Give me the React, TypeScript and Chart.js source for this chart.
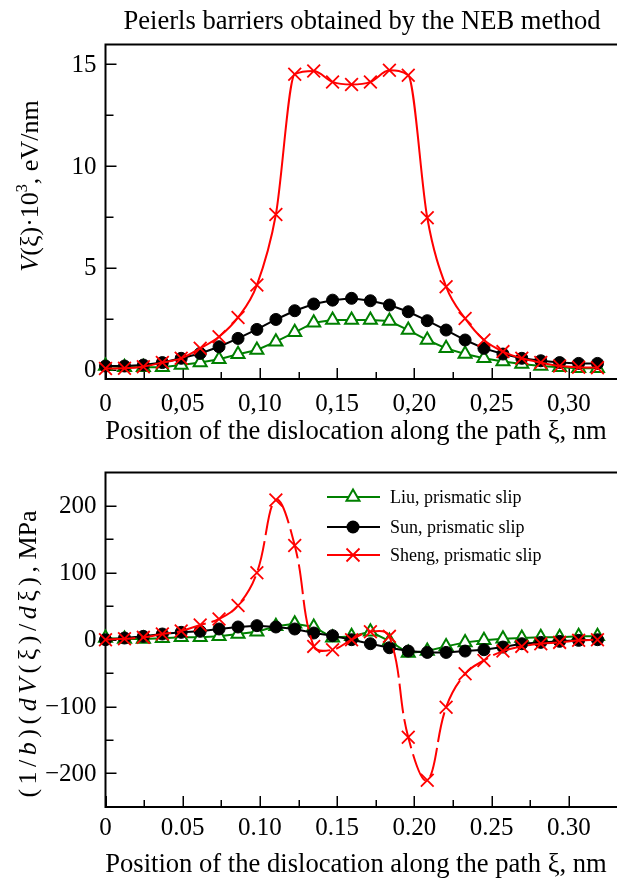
import React, { useEffect, useRef } from 'react';
import { Chart, registerables } from 'chart.js';

Chart.register(...registerables);

// ---------- data ----------
const X_NM = [0, 0.0123, 0.0245, 0.0368, 0.049, 0.0613, 0.0735, 0.0858, 0.098, 0.1103, 0.1225, 0.1348, 0.147, 0.1593, 0.1715, 0.1838, 0.196, 0.2083, 0.2205, 0.2328, 0.245, 0.2573, 0.2695, 0.2818, 0.294, 0.3063, 0.3185];

// Peierls barrier V(xi)*10^3, eV/nm
const LIU_BARRIER = [0.17, 0.11, 0.11, 0.11, 0.22, 0.34, 0.5, 0.75, 0.96, 1.37, 1.83, 2.3, 2.43, 2.43, 2.43, 2.38, 1.94, 1.45, 1.04, 0.76, 0.55, 0.39, 0.27, 0.17, 0.11, 0.06, 0.06];
const SUN_BARRIER = [0.17, 0.17, 0.22, 0.34, 0.55, 0.79, 1.12, 1.53, 1.97, 2.46, 2.89, 3.22, 3.41, 3.5, 3.38, 3.17, 2.84, 2.4, 1.94, 1.45, 1.04, 0.76, 0.55, 0.43, 0.34, 0.3, 0.3];
const SHENG_BARRIER = [0.05, 0.06, 0.14, 0.34, 0.55, 1.04, 1.61, 2.56, 4.15, 7.62, 14.52, 14.68, 14.14, 14.01, 14.14, 14.71, 14.47, 7.46, 4.07, 2.51, 1.45, 0.88, 0.55, 0.34, 0.17, 0.11, 0.09];

// Peierls stress (1/b)(dV/dxi), MPa
const LIU_STRESS = [2.5, 1, 1, 2, 3.5, 3.5, 5, 8.5, 12, 20, 24, 19, 3, 5, 12, -2, -20, -17, -10, -4, -1, 1.5, 2.5, 3.5, 3.5, 5, 5];
const SUN_STRESS = [0, 2.5, 5, 8.5, 11, 12.5, 16, 19, 21, 19, 16, 10, 6, 0, -6, -12, -17, -19, -19, -17, -15, -11, -6, -4, -2.5, -1, 0];
const SHENG_STRESS = [0, 1.5, 3.5, 8.5, 13, 22, 31, 51, 100, 209, 141, -10, -15, 0, 12, 5, -146, -210, -101, -51, -31, -17, -10, -6, -4, -1, 0];

const SERIES_NAMES = ['Liu, prismatic slip', 'Sun, prismatic slip', 'Sheng, prismatic slip'];

const X_MAJOR = [0, 0.05, 0.1, 0.15, 0.2, 0.25, 0.3];
const X_MINOR = [0.025, 0.075, 0.125, 0.175, 0.225, 0.275];
const TOP_X_LABELS = ['0', '0,05', '0,10', '0,15', '0,20', '0,25', '0,30'];
const BOTTOM_X_LABELS = ['0', '0.05', '0.10', '0.15', '0.20', '0.25', '0.30'];

const TOP_Y_MAJOR = [0, 5, 10, 15];
const TOP_Y_MINOR = [2.5, 7.5, 12.5];
const TOP_Y_LABELS = ['0', '5', '10', '15'];
const BOTTOM_Y_MAJOR = [-200, -100, 0, 100, 200];
const BOTTOM_Y_MINOR = [-150, -50, 50, 150];
const BOTTOM_Y_LABELS = ['\u2212200', '\u2212100', '0', '100', '200'];

// ---------- styling ----------
const FONT = '"Liberation Serif", "Times New Roman", serif';
const RED = '#ff0000';
const GREEN = '#008000';
const BLACK = '#000000';
const CANVAS_W = 617;

function font(size: number, italic = false) {
  return `${italic ? 'italic ' : ''}${size}px ${FONT}`;
}

type Seg = { t: string; it?: boolean; sup?: boolean; sp?: number };

function drawRichVertical(ctx: CanvasRenderingContext2D, segs: Seg[], size: number, x: number, cy: number) {
  ctx.save();
  ctx.translate(x, cy);
  ctx.rotate(-Math.PI / 2);
  ctx.fillStyle = '#000';
  ctx.textAlign = 'left';
  ctx.textBaseline = 'alphabetic';
  const glyphs: { ch: string; f: string; dy: number; w: number }[] = [];
  segs.forEach((s) => {
    const f = font(s.sup ? size * 0.62 : size, s.it);
    ctx.font = f;
    Array.from(s.t).forEach((ch) => {
      glyphs.push({ ch, f, dy: s.sup ? -size * 0.42 : 0, w: ctx.measureText(ch).width + (s.sp || 0) });
    });
  });
  const total = glyphs.reduce((a, g) => a + g.w, 0);
  let px = -total / 2;
  glyphs.forEach((g) => {
    ctx.font = g.f;
    ctx.fillText(g.ch, px, g.dy);
    px += g.w;
  });
  ctx.restore();
}

function drawMarker(ctx: CanvasRenderingContext2D, kind: string, x: number, y: number) {
  ctx.save();
  if (kind === 'triangle') {
    const r = 7.5;
    ctx.beginPath();
    ctx.moveTo(x, y - r);
    ctx.lineTo(x + r * Math.sin((2 * Math.PI) / 3), y - r * Math.cos((2 * Math.PI) / 3));
    ctx.lineTo(x + r * Math.sin((4 * Math.PI) / 3), y - r * Math.cos((4 * Math.PI) / 3));
    ctx.closePath();
    ctx.fillStyle = '#fff';
    ctx.fill();
    ctx.strokeStyle = GREEN;
    ctx.lineWidth = 2;
    ctx.stroke();
  } else if (kind === 'circle') {
    ctx.beginPath();
    ctx.arc(x, y, 6.5, 0, Math.PI * 2);
    ctx.fillStyle = BLACK;
    ctx.fill();
  } else {
    const h = 6.5;
    ctx.beginPath();
    ctx.moveTo(x - h, y - h);
    ctx.lineTo(x + h, y + h);
    ctx.moveTo(x - h, y + h);
    ctx.lineTo(x + h, y - h);
    ctx.strokeStyle = RED;
    ctx.lineWidth = 1.8;
    ctx.stroke();
  }
  ctx.restore();
}

interface DecorCfg {
  xLabels: string[];
  yMajor: number[];
  yMinor: number[];
  yLabels: string[];
  xLabelBaseline: number;
  xTitle: string;
  xTitleBaseline: number;
  xTitleCenter: number;
  yTitle: Seg[];
  yTitleX: number;
  yTitleCenterY: number;
  title?: string;
  titleBaseline?: number;
  titleCenter?: number;
  legend?: { x1: number; x2: number; xm: number; xt: number; ys: number[] };
}

const TICK_SIZE = 25;
const TITLE_SIZE = 26.6;
const YTITLE_SIZE = 26;
const LEGEND_SIZE = 18;

function makeDecor(cfg: DecorCfg) {
  return {
    id: 'decor',
    beforeDatasetsDraw(chart: any) {
      const ctx: CanvasRenderingContext2D = chart.ctx;
      const a = chart.chartArea;
      const xs = chart.scales.x;
      const ys = chart.scales.y;
      ctx.save();
      ctx.strokeStyle = '#000';
      ctx.lineWidth = 2;
      ctx.beginPath();
      ctx.moveTo(CANVAS_W + 2, a.top);
      ctx.lineTo(a.left, a.top);
      ctx.lineTo(a.left, a.bottom);
      ctx.lineTo(CANVAS_W + 2, a.bottom);
      ctx.stroke();
      ctx.lineWidth = 1.5;
      ctx.beginPath();
      const xt = (v: number, len: number) => {
        const px = Math.round(xs.getPixelForValue(v)) + 0.25;
        ctx.moveTo(px, a.bottom);
        ctx.lineTo(px, a.bottom - len);
      };
      const yt = (v: number, len: number) => {
        const py = Math.round(ys.getPixelForValue(v)) + 0.25;
        ctx.moveTo(a.left, py);
        ctx.lineTo(a.left + len, py);
      };
      X_MAJOR.forEach((v) => xt(v, 11));
      X_MINOR.forEach((v) => xt(v, 7));
      cfg.yMajor.forEach((v) => yt(v, 11));
      cfg.yMinor.forEach((v) => yt(v, 8));
      ctx.stroke();
      ctx.restore();
    },
    afterDraw(chart: any) {
      const ctx: CanvasRenderingContext2D = chart.ctx;
      const a = chart.chartArea;
      const xs = chart.scales.x;
      const ys = chart.scales.y;
      ctx.save();
      ctx.fillStyle = '#000';
      ctx.textBaseline = 'alphabetic';
      ctx.font = font(TICK_SIZE);
      ctx.textAlign = 'center';
      X_MAJOR.forEach((v, i) => {
        ctx.fillText(cfg.xLabels[i], xs.getPixelForValue(v), cfg.xLabelBaseline);
      });
      ctx.textAlign = 'right';
      cfg.yMajor.forEach((v, i) => {
        ctx.fillText(cfg.yLabels[i], a.left - 9, ys.getPixelForValue(v) + TICK_SIZE * 0.34 - 1);
      });
      ctx.font = font(TITLE_SIZE);
      ctx.textAlign = 'center';
      ctx.fillText(cfg.xTitle, cfg.xTitleCenter, cfg.xTitleBaseline);
      if (cfg.title) ctx.fillText(cfg.title, cfg.titleCenter!, cfg.titleBaseline!);
      ctx.restore();
      drawRichVertical(ctx, cfg.yTitle, YTITLE_SIZE, cfg.yTitleX, cfg.yTitleCenterY);
      if (cfg.legend) {
        const L = cfg.legend;
        const kinds = ['triangle', 'circle', 'cross'];
        const cols = [GREEN, BLACK, RED];
        ctx.save();
        kinds.forEach((k, i) => {
          const y = L.ys[i];
          ctx.strokeStyle = cols[i];
          ctx.lineWidth = 2;
          ctx.beginPath();
          ctx.moveTo(L.x1, y);
          ctx.lineTo(L.x2, y);
          ctx.stroke();
          drawMarker(ctx, k, L.xm, y);
          ctx.fillStyle = '#000';
          ctx.font = font(LEGEND_SIZE);
          ctx.textAlign = 'left';
          ctx.textBaseline = 'alphabetic';
          ctx.fillText(SERIES_NAMES[i], L.xt, y + LEGEND_SIZE * 0.33);
        });
        ctx.restore();
      }
    },
  };
}

const LEFT = 105.5;
const X_PER_UNIT = 1578;
const X_MAX = (CANVAS_W - LEFT) / X_PER_UNIT;

function pts(vals: number[]) {
  return X_NM.map((x, i) => ({ x, y: vals[i] }));
}

function datasets(liu: number[], sun: number[], sheng: number[], derivative: boolean) {
  return [
    {
      label: SERIES_NAMES[2],
      data: pts(sheng),
      borderColor: RED,
      borderWidth: 2,
      borderDash: derivative ? [30, 6] : [],
      pointStyle: 'crossRot',
      pointRadius: 9,
      pointBorderWidth: 1.8,
      pointBorderColor: RED,
      pointBackgroundColor: RED,
      cubicInterpolationMode: derivative ? 'default' : 'monotone',
      tension: 0.4,
      clip: false,
      order: 0,
    },
    {
      label: SERIES_NAMES[1],
      data: pts(sun),
      borderColor: BLACK,
      borderWidth: 2,
      pointStyle: 'circle',
      pointRadius: 6,
      pointBorderWidth: 1,
      pointBorderColor: BLACK,
      pointBackgroundColor: BLACK,
      tension: 0,
      clip: false,
      order: 1,
    },
    {
      label: SERIES_NAMES[0],
      data: pts(liu),
      borderColor: GREEN,
      borderWidth: 2,
      pointStyle: 'triangle',
      pointRadius: 7.5,
      pointBorderWidth: 2,
      pointBorderColor: GREEN,
      pointBackgroundColor: '#ffffff',
      tension: 0,
      clip: false,
      order: 2,
    },
  ];
}

function makeConfig(opts: {
  canvasH: number;
  top: number;
  bottom: number;
  yMin: number;
  yMax: number;
  ds: any[];
  decor: DecorCfg;
}): any {
  return {
    type: 'line',
    data: { datasets: opts.ds },
    options: {
      animation: false,
      responsive: false,
      devicePixelRatio: 1,
      events: [],
      layout: { padding: { left: LEFT, top: opts.top, right: 0, bottom: opts.canvasH - opts.bottom } },
      scales: {
        x: { type: 'linear', min: 0, max: X_MAX, display: false },
        y: { type: 'linear', min: opts.yMin, max: opts.yMax, display: false },
      },
      plugins: { legend: { display: false }, tooltip: { enabled: false }, title: { display: false } },
    },
    plugins: [makeDecor(opts.decor)],
  };
}

const TOP_H = 450;
const BOT_H = 429;
const BOT_OFFSET = 450;

export default function App() {
  const topRef = useRef<HTMLCanvasElement>(null);
  const botRef = useRef<HTMLCanvasElement>(null);

  useEffect(() => {
    const topCfg = makeConfig({
      canvasH: TOP_H,
      top: 44.5,
      bottom: 379,
      yMin: -0.467,
      yMax: 15.98,
      ds: datasets(LIU_BARRIER, SUN_BARRIER, SHENG_BARRIER, false),
      decor: {
        xLabels: TOP_X_LABELS,
        yMajor: TOP_Y_MAJOR,
        yMinor: TOP_Y_MINOR,
        yLabels: TOP_Y_LABELS,
        xLabelBaseline: 411,
        xTitle: 'Position of the dislocation along the path \u03be, nm',
        xTitleBaseline: 439,
        xTitleCenter: 356,
        yTitle: [
          { t: 'V', it: true },
          { t: '(\u03be)\u00b710' },
          { t: '3', sup: true },
          { t: ', eV/nm' },
        ],
        yTitleX: 38,
        yTitleCenterY: 186,
        title: 'Peierls barriers obtained by the NEB method',
        titleBaseline: 29,
        titleCenter: 362,
      },
    });
    const botCfg = makeConfig({
      canvasH: BOT_H,
      top: 472.5 - BOT_OFFSET,
      bottom: 806.9 - BOT_OFFSET,
      yMin: -250,
      yMax: 250,
      ds: datasets(LIU_STRESS, SUN_STRESS, SHENG_STRESS, true),
      decor: {
        xLabels: BOTTOM_X_LABELS,
        yMajor: BOTTOM_Y_MAJOR,
        yMinor: BOTTOM_Y_MINOR,
        yLabels: BOTTOM_Y_LABELS,
        xLabelBaseline: 835 - BOT_OFFSET,
        xTitle: 'Position of the dislocation along the path \u03be, nm',
        xTitleBaseline: 872 - BOT_OFFSET,
        xTitleCenter: 356,
        yTitle: [
          { t: '(1/', sp: 4.5 },
          { t: 'b', it: true, sp: 4.5 },
          { t: ')(', sp: 4.5 },
          { t: 'dV', it: true, sp: 4.5 },
          { t: '(\u03be)/', sp: 4.5 },
          { t: 'd', it: true, sp: 4.5 },
          { t: '\u03be)', sp: 4.5 },
          { t: ', MPa' },
        ],
        yTitleX: 36,
        yTitleCenterY: 654 - BOT_OFFSET,
        legend: { x1: 327, x2: 380, xm: 353, xt: 390, ys: [497 - BOT_OFFSET, 527 - BOT_OFFSET, 555 - BOT_OFFSET] },
      },
    });
    const c1 = new Chart(topRef.current as HTMLCanvasElement, topCfg);
    const c2 = new Chart(botRef.current as HTMLCanvasElement, botCfg);
    return () => {
      c1.destroy();
      c2.destroy();
    };
  }, []);

  return (
    <div style={{ position: 'fixed', left: 0, top: 0, width: 617, height: 879, overflow: 'hidden', background: '#fff' }}>
      <canvas
        ref={topRef}
        width={CANVAS_W}
        height={TOP_H}
        style={{ position: 'absolute', left: 0, top: 0, width: CANVAS_W, height: TOP_H }}
      />
      <canvas
        ref={botRef}
        width={CANVAS_W}
        height={BOT_H}
        style={{ position: 'absolute', left: 0, top: BOT_OFFSET, width: CANVAS_W, height: BOT_H }}
      />
    </div>
  );
}
